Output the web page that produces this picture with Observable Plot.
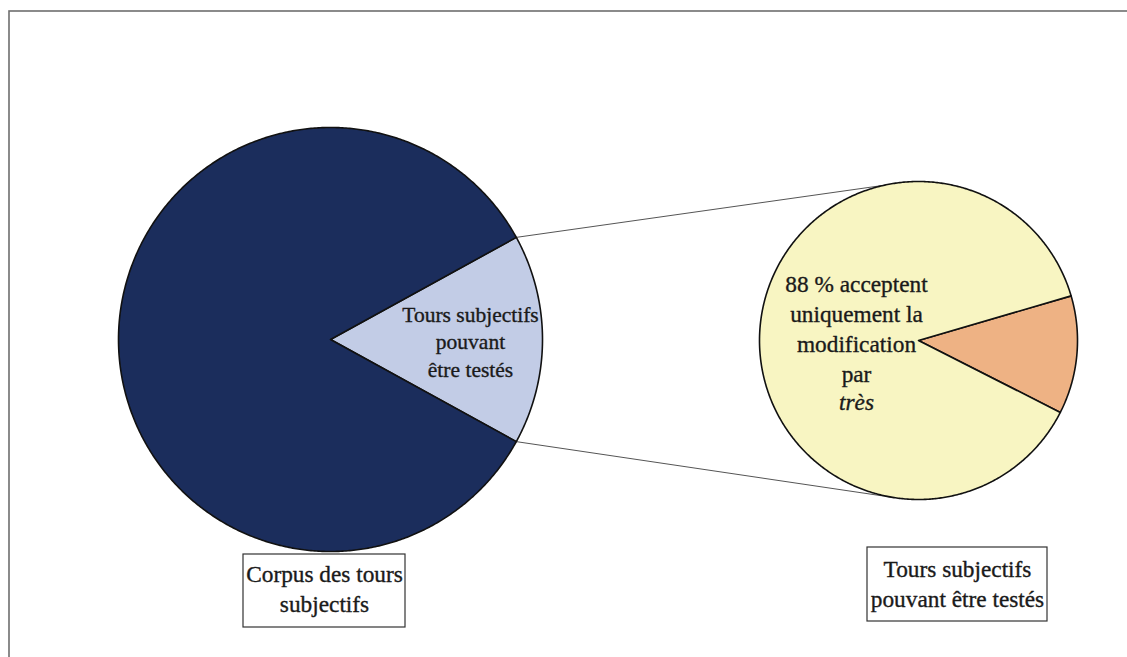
<!DOCTYPE html>
<html><head><meta charset="utf-8">
<script src="https://cdn.jsdelivr.net/npm/d3@7"></script>
<script src="https://cdn.jsdelivr.net/npm/@observablehq/plot@0.6"></script>
<style>
html,body{margin:0;padding:0;background:#fff;}
svg text{font-family:"Liberation Serif","Times New Roman",serif;}
</style>
</head><body>
<div id="chart"></div>
<script>
// ---- data ----
const mainCategories = ["Tours subjectifs pouvant être testés", "Autres tours subjectifs"];
const mainValues = [16, 84];
const subCategories = ["Modification par très seulement", "Autres"];
const subValues = [12, 88];
const mainSliceLabel = ["Tours subjectifs", "pouvant", "être testés"];
const subSliceLabel = ["88 % acceptent", "uniquement la", "modification", "par"];
const subSliceLabelItalic = "très";
const boxLabels = ["Corpus des tours\nsubjectifs", "Tours subjectifs\npouvant être testés"];

// ---- layout ----
const W = 1127, H = 657;
const L = {cx: 330, cy: 339, r: 212};
const R = {cx: 918, cy: 340, r: 159};
const font = "Liberation Serif, Times New Roman, serif";
const deg = Math.PI / 180;

function wedge(c, a0, a1, name) {
  const pts = [{x: c.cx, y: c.cy, s: name}];
  const n = Math.max(2, Math.ceil(Math.abs(a1 - a0) / (0.5 * deg)));
  for (let i = 0; i <= n; i++) {
    const a = a0 + (a1 - a0) * i / n;
    pts.push({x: c.cx + c.r * Math.cos(a), y: c.cy + c.r * Math.sin(a), s: name});
  }
  pts.push({x: c.cx, y: c.cy, s: name});
  return pts;
}

// main pie: highlighted slice centred on the right (angle 0)
const mainTotal = d3.sum(mainValues);
const hiSpan = mainValues[0] / mainTotal * 2 * Math.PI;
const hiA0 = -hiSpan / 2, hiA1 = hiSpan / 2;
const mainWedges = [
  wedge(L, hiA0, hiA1, mainCategories[0]),
  wedge(L, hiA1, hiA0 + 2 * Math.PI, mainCategories[1])
];
// sub pie
const subTotal = d3.sum(subValues);
const smallSpan = subValues[0] / subTotal * 2 * Math.PI;
const smA0 = -16.3 * deg, smA1 = smA0 + smallSpan;
const subWedges = [
  wedge(R, smA0, smA1, subCategories[0]),
  wedge(R, smA1, smA0 + 2 * Math.PI, subCategories[1])
];

const mainColors = ["#c2cce6", "#1b2d5c"];
const subColors = ["#eeb284", "#f8f5c2"];

// connectors from main highlighted slice edges to the sub pie top / bottom
const topR = -102.5 * deg, botR = 99 * deg;
const connectors = [
  [{x: L.cx + L.r * Math.cos(hiA0), y: L.cy + L.r * Math.sin(hiA0)},
   {x: R.cx + R.r * Math.cos(topR), y: R.cy + R.r * Math.sin(topR)}],
  [{x: L.cx + L.r * Math.cos(hiA1), y: L.cy + L.r * Math.sin(hiA1)},
   {x: R.cx + R.r * Math.cos(botR), y: R.cy + R.r * Math.sin(botR)}]
];

const boxes = [
  {x1: 243, x2: 405, y1: 554, y2: 627, cx: 324, cy: 587, t: boxLabels[0]},
  {x1: 867, x2: 1047, y1: 547, y2: 621, cx: 957, cy: 582, t: boxLabels[1]}
];

const ink = "#1a1a1a";
const heavy = {stroke: ink, strokeWidth: 0.35};
const marks = [
  // outer frame
  Plot.rect([{x1: 9, y1: 11, x2: W + 20, y2: H + 20}], {x1: "x1", y1: "y1", x2: "x2", y2: "y2", fill: "none", stroke: "#6e6e6e", strokeWidth: 1.6}),
  ...connectors.map(c => Plot.line(c, {x: "x", y: "y", stroke: "#555", strokeWidth: 1})),
  ...mainWedges.map((w, i) => Plot.line(w, {x: "x", y: "y", fill: mainColors[i], stroke: "#111", strokeWidth: 1.6, strokeLinejoin: "round"})),
  ...subWedges.map((w, i) => Plot.line(w, {x: "x", y: "y", fill: subColors[i], stroke: "#111", strokeWidth: 1.6, strokeLinejoin: "round"})),
  Plot.text([mainSliceLabel.join("\n")], {x: () => L.cx + 140, y: () => L.cy + 1, text: d => d, fontFamily: font, fontSize: 21.5, lineHeight: 1.3, fill: ink, textAnchor: "middle", ...heavy}),
  Plot.text([subSliceLabel.join("\n")], {x: () => R.cx - 62, y: () => R.cy - 13, text: d => d, fontFamily: font, fontSize: 23.3, lineHeight: 1.29, fill: ink, textAnchor: "middle", ...heavy}),
  Plot.text([subSliceLabelItalic], {x: () => R.cx - 62, y: () => R.cy + 62, text: d => d, fontFamily: font, fontSize: 23.3, fontStyle: "italic", fill: ink, textAnchor: "middle", ...heavy}),
  Plot.rect(boxes, {x1: "x1", y1: "y1", x2: "x2", y2: "y2", fill: "white", stroke: "#333", strokeWidth: 1.2}),
  Plot.text(boxes, {x: "cx", y: "cy", text: "t", fontFamily: font, fontSize: 23.3, lineHeight: 1.3, fill: ink, textAnchor: "middle", ...heavy})
];

const chart = Plot.plot({
  width: W, height: H,
  margin: 0,
  x: {type: "linear", domain: [0, W], range: [0, W], axis: null},
  y: {type: "linear", domain: [0, H], range: [0, H], axis: null},
  style: {background: "white", overflow: "hidden", fontFamily: font},
  marks
});
document.getElementById("chart").appendChild(chart);
</script>
</body></html>
